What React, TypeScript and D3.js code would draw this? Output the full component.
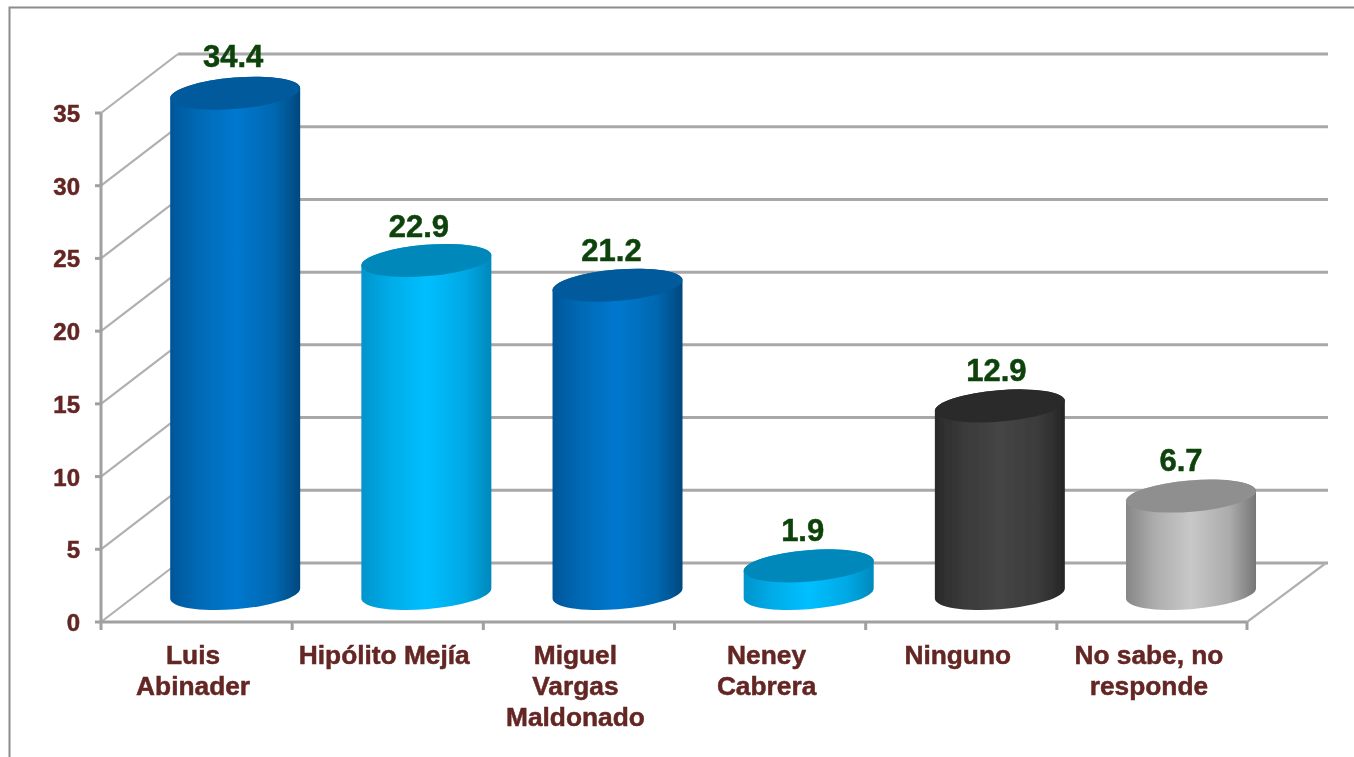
import React from "react";
import * as d3 from "d3";

const categoryLines = [
  ["Luis", "Abinader"],
  ["Hipólito Mejía"],
  ["Miguel", "Vargas", "Maldonado"],
  ["Neney", "Cabrera"],
  ["Ninguno"],
  ["No sabe, no", "responde"],
];
const values = [34.4, 22.9, 21.2, 1.9, 12.9, 6.7];
const valueLabels = ["34.4", "22.9", "21.2", "1.9", "12.9", "6.7"];
const yTicks = [0, 5, 10, 15, 20, 25, 30, 35];
const palettes = ["blue", "cyan", "blue", "cyan", "dark", "gray"];
const labelNudgeX = [-2, -7.5, -6, -6, -3.5, -10];
const labelNudgeY = [-1, 2, 1, 0, 0, 0];

const styles: Record<string, { edgeL: string; edgeL2: string; mid: string; edgeR2: string; edgeR: string; top: string }> = {
  blue: { edgeL: "#00569a", edgeL2: "#006ab6", mid: "#0078cf", edgeR2: "#0068b2", edgeR: "#00487e", top: "#005a9c" },
  cyan: { edgeL: "#0094cc", edgeL2: "#00ace8", mid: "#00bfff", edgeR2: "#00a8e4", edgeR: "#0088bc", top: "#0088bb" },
  dark: { edgeL: "#2a2a2a", edgeL2: "#3a3a3a", mid: "#454545", edgeR2: "#3b3b3b", edgeR: "#252525", top: "#2b2b2b" },
  gray: { edgeL: "#868686", edgeL2: "#adadad", mid: "#c8c8c8", edgeR2: "#ababab", edgeR: "#767676", top: "#8f8f8f" },
};

const W = 1354;
const H = 757;
const x = d3.scaleBand<number>().domain(d3.range(values.length)).range([101, 1248]);
const y = d3.scaleLinear().domain([0, 35]).range([622, 113]);
const depthX = 77;
const depthY = 59;
const gridRight = 1328;

const RX = 65.2;
const RY = 15.7;
const TILT = -4.7;
const cylShiftX = 38.6;
const cylShiftY = -28.5;

function cylinderPath(cx: number, yBottom: number, yTop: number) {
  const th = (TILT * Math.PI) / 180;
  const t = Math.atan2(-RY * Math.sin(th), RX * Math.cos(th));
  const dx = RX * Math.cos(t) * Math.cos(th) - RY * Math.sin(t) * Math.sin(th);
  const dy = RX * Math.cos(t) * Math.sin(th) + RY * Math.sin(t) * Math.cos(th);
  return [
    `M${cx - dx},${yTop - dy}`,
    `A${RX},${RY} ${TILT} 0 1 ${cx + dx},${yTop + dy}`,
    `L${cx + dx},${yBottom + dy}`,
    `A${RX},${RY} ${TILT} 0 1 ${cx - dx},${yBottom - dy}`,
    "Z",
  ].join(" ");
}

export default function App() {
  const lineStyle = { stroke: "#a8a8a8", strokeWidth: 3, fill: "none" };
  const diagStyle = { stroke: "#b0b0b0", strokeWidth: 2.2, fill: "none" };
  const axisStyle = { stroke: "#a0a0a0", strokeWidth: 3, fill: "none" };
  const tickEdges = [...x.domain().map((d) => x(d) as number), x.range()[1]];
  const heavy = { strokeWidth: 0.5, paintOrder: "stroke" as const };
  return (
    <svg
      width={W}
      height={H}
      viewBox={`0 0 ${W} ${H}`}
      style={{ position: "absolute", left: 0, top: 0, background: "#fff", fontFamily: "'Liberation Sans', Arial, sans-serif" }}
    >
      <defs>
        {Object.entries(styles).map(([k, s]) => (
          <linearGradient key={k} id={`grad-${k}`} x1="0" x2="1" y1="0" y2="0">
            <stop offset="0" stopColor={s.edgeL} />
            <stop offset="0.22" stopColor={s.edgeL2} />
            <stop offset="0.5" stopColor={s.mid} />
            <stop offset="0.8" stopColor={s.edgeR2} />
            <stop offset="1" stopColor={s.edgeR} />
          </linearGradient>
        ))}
        <filter id="soft" x="0" y="0" width="100%" height="100%" filterUnits="userSpaceOnUse" primitiveUnits="userSpaceOnUse">
          <feGaussianBlur stdDeviation="0.45" />
        </filter>
      </defs>

      <g filter="url(#soft)">
        <path d={`M9.5,${H} V7.5 H${W}`} fill="none" stroke="#8c8c8c" strokeWidth={2} />

        {yTicks.map((t) => (
          <g key={t}>
            <line x1={x.range()[0] + depthX} x2={gridRight} y1={y(t) - depthY} y2={y(t) - depthY} {...lineStyle} />
            <line x1={x.range()[0]} x2={x.range()[0] + depthX} y1={y(t)} y2={y(t) - depthY} {...diagStyle} />
            <line x1={x.range()[0] - 6} x2={x.range()[0]} y1={y(t)} y2={y(t)} {...axisStyle} />
            <text x={80} y={y(t) + 9} textAnchor="end" fontSize={24} fontWeight="bold" fill="#632523" stroke="#632523" {...heavy}>
              {t}
            </text>
          </g>
        ))}

        <line x1={x.range()[0]} x2={x.range()[0]} y1={y(35)} y2={y(0)} {...axisStyle} />
        <line x1={x.range()[0]} x2={x.range()[1] - 1} y1={y(0)} y2={y(0)} {...axisStyle} />
        <line x1={x.range()[1] - 1} x2={gridRight - 2} y1={y(0)} y2={y(0) - depthY} {...diagStyle} />
        {tickEdges.map((e, i) => (
          <line key={e} x1={e - (i === 6 ? 1 : 0)} x2={e - (i === 6 ? 1 : 0)} y1={y(0)} y2={y(0) + 8} {...axisStyle} />
        ))}

        {values.map((v, i) => {
          const cx = (x(i) as number) + x.bandwidth() / 2 + cylShiftX;
          const yb = y(0) + cylShiftY;
          const yt = y(v) + cylShiftY;
          const s = styles[palettes[i]];
          return (
            <g key={i}>
              <path d={cylinderPath(cx, yb, yt)} fill={`url(#grad-${palettes[i]})`} />
              <ellipse cx={cx} cy={yt} rx={RX} ry={RY} fill={s.top} transform={`rotate(${TILT} ${cx} ${yt})`} />
              <text
                x={cx + labelNudgeX[i]}
                y={yt - 25 + labelNudgeY[i]}
                textAnchor="middle"
                fontSize={31}
                fontWeight="bold"
                fill="#0b4309"
                stroke="#0b4309"
                {...heavy}
              >
                {valueLabels[i]}
              </text>
            </g>
          );
        })}

        {categoryLines.map((lines, i) => (
          <text key={i} textAnchor="middle" fontSize={26.3} fontWeight="bold" fill="#632523" stroke="#632523" {...heavy}>
            {lines.map((l, j) => (
              <tspan key={j} x={(x(i) as number) + x.bandwidth() / 2 - 3.5} y={664 + j * 31}>
                {l}
              </tspan>
            ))}
          </text>
        ))}
      </g>
    </svg>
  );
}
